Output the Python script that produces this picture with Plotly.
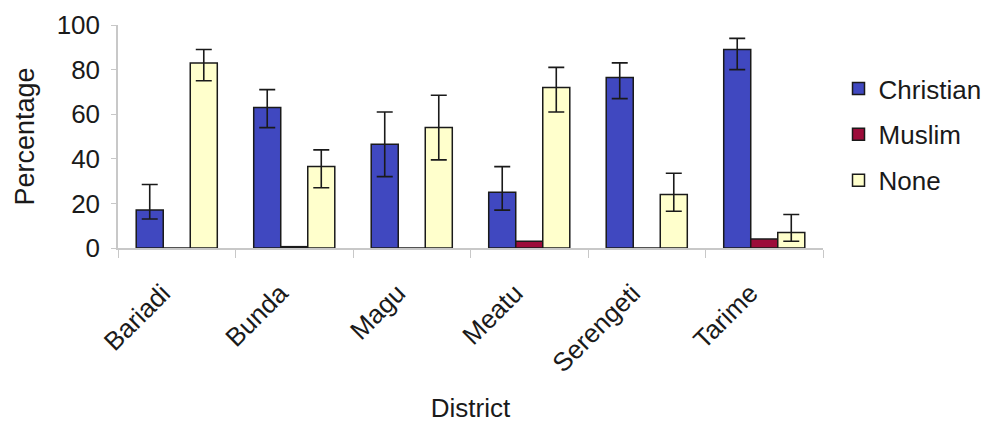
import plotly.graph_objects as go

districts = ["Bariadi", "Bunda", "Magu", "Meatu", "Serengeti", "Tarime"]

christian = [17, 63, 46.5, 25, 76.5, 89]
christian_hi = [28.5, 71, 61, 36.5, 83, 94]
christian_lo = [13, 54, 32, 17, 67, 80]

muslim = [0, 0.6, 0, 3, 0, 4]

none = [83, 36.5, 54, 72, 24, 7]
none_hi = [89, 44, 68.5, 81, 33.5, 15]
none_lo = [75, 27, 39.5, 61, 16.5, 3]

def err(vals, hi, lo):
    return dict(type="data", symmetric=False,
                array=[h - v for v, h in zip(vals, hi)],
                arrayminus=[v - l for v, l in zip(vals, lo)],
                color="#1a1a1a", thickness=1.6, width=8)

outline = dict(color="#1a1a1a", width=1.5)
fig = go.Figure()
fig.add_bar(x=districts, y=christian, name="Christian",
            marker=dict(color="#4048C0", line=outline),
            error_y=err(christian, christian_hi, christian_lo), legendgroup="a")
fig.add_bar(x=districts, y=muslim, name="Muslim",
            marker=dict(color="#9C0C3A", line=outline), legendgroup="b")
fig.add_bar(x=districts, y=none, name="None",
            marker=dict(color="#FFFFCC", line=outline),
            error_y=err(none, none_hi, none_lo), legendgroup="c")

fig.update_layout(
    width=992, height=424,
    margin=dict(l=110, r=177, t=17, b=184, autoexpand=False),
    paper_bgcolor="white", plot_bgcolor="white",
    barmode="group", bargap=0.31, bargroupgap=0,
    font=dict(family="Liberation Sans, Arial", color="#1a1a1a", size=26),
    legend=dict(x=1.022, y=0.82, xanchor="left", yanchor="top",
                font=dict(size=26), traceorder="grouped", tracegroupgap=9,
                bgcolor="rgba(0,0,0,0)"),
    xaxis=dict(
        title=dict(text="District", font=dict(size=26), standoff=22),
        tickangle=-45, tickson="boundaries", ticks="outside", ticklen=8,
        tickcolor="#c8c8c8", showline=True, linecolor="#c8c8c8", linewidth=1.5,
        tickfont=dict(size=26), ticklabelstandoff=18, ticklabelshift=-14,
    ),
    yaxis=dict(
        title=dict(text="Percentage", font=dict(size=27), standoff=14),
        range=[0, 100], dtick=20, showgrid=False, zeroline=False,
        ticks="outside", ticklen=5, tickcolor="#c8c8c8",
        showline=True, linecolor="#c8c8c8", linewidth=1.5,
        tickfont=dict(size=26), ticklabelstandoff=6,
    ),
)

fig.write_html("out.html")
